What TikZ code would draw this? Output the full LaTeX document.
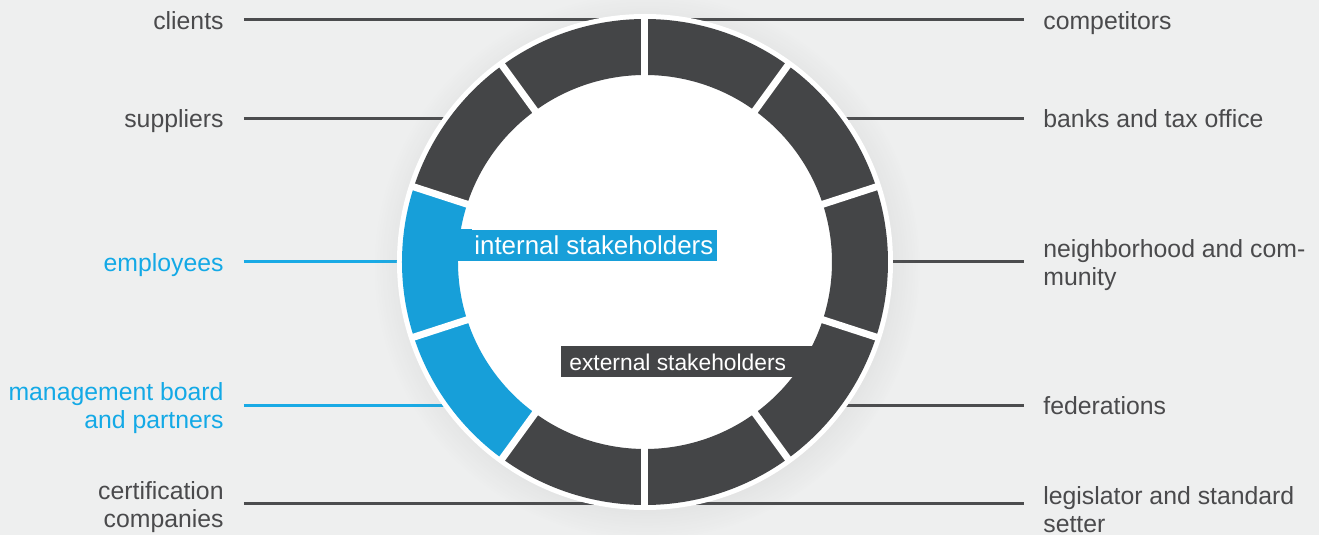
\documentclass[tikz,border=0pt]{standalone}
\usepackage{tikz}
\usetikzlibrary{positioning}
\usetikzlibrary{shadows}
\usepackage{xcolor}
\usepackage{fontspec}
\setmainfont{Liberation Sans}

\definecolor{bgcol}{HTML}{EEEFEF}
\definecolor{ringdark}{HTML}{444547}
\definecolor{ringblue}{HTML}{179FD9}
\definecolor{linedark}{HTML}{4B4C4E}
\definecolor{lineblue}{HTML}{19AAE5}
\definecolor{txtgray}{HTML}{4A4A4C}
\definecolor{txtblue}{HTML}{13A9E6}

\begin{document}
\begin{tikzpicture}[x=0.5pt, y=0.5pt]
        % ================= 样式定义 =================
        \tikzset{
            % 外侧标签:无框,字大
            lbl/.style={inner sep=0pt, text=txtgray, font=\fontsize{12.4pt}{14pt}\selectfont},
            % 单行标签:固定高度,保证对齐
            one/.style={text height=9.3pt, text depth=0pt},
            lblin/.style={lbl, text=txtblue},
            % 连线
            lnk/.style={draw=linedark, line width=1.5pt},
            lnkin/.style={draw=lineblue, line width=1.5pt},
            % 中间白色圆盘
            disk/.style={circle, fill=white, inner sep=0pt, minimum size=248pt},
            % 圆环中的白缝
            gap/.style={draw=white, line width=3.5pt},
            % 圆盘里的文字条
            tag/.style={inner xsep=2pt, inner ysep=0pt, minimum height=15.5pt, text=white,
                font=\fontsize{12.95pt}{14pt}\selectfont}
        }

        % ================= 背景 =================
        \fill[bgcol] (-645,-273) rectangle (674,262);
        \useasboundingbox (-645,-273) rectangle (674,262);

        \coordinate (o) at (0,0);

        % 连线端点
        \coordinate (l1) at (-401, 242);
        \coordinate (l2) at (-401, 143.5);
        \coordinate (l3) at (-401, 0);
        \coordinate (l4) at (-401, -143.5);
        \coordinate (l5) at (-401, -242);
        \coordinate (r1) at (379, 242);
        \coordinate (r2) at (379, 143.5);
        \coordinate (r3) at (379, 0);
        \coordinate (r4) at (379, -143.5);
        \coordinate (r5) at (379, -242);

        % ================= 左侧标签 =================
        \node[lbl, one, left=10pt of l1] (clients) {clients};
        \node[lbl, one, left=10pt of l2] (suppliers) {suppliers};
        \node[lblin, one, left=10pt of l3] (employees) {employees};
        \node[lblin, left=10pt of l4, yshift=-1.5pt, align=right] (board) {management board\\and partners};
        \node[lbl, left=10pt of l5, yshift=-1.5pt, align=right] (certif) {certification\\companies};

        % ================= 右侧标签 =================
        \node[lbl, one, right=9.5pt of r1] (compet) {competitors};
        \node[lbl, one, right=9.5pt of r2] (banks) {banks and tax office};
        \node[lbl, right=9.5pt of r3, yshift=-1.5pt, align=left] (neighb) {neighborhood and com-\\munity};
        \node[lbl, one, right=9.5pt of r4] (feder) {federations};
        \node[lbl, right=9.5pt of r5, yshift=-3pt, align=left] (legis) {legislator and standard\\setter};

        % ================= 连线 (画在圆盘下面) =================
        \draw[lnk] (l1) -- (l1 -| o);
        \draw[lnk] (l2) -- (l2 -| o);
        \draw[lnkin] (l3) -- (l3 -| o);
        \draw[lnkin] (l4) -- (l4 -| o);
        \draw[lnk] (l5) -- (l5 -| o);
        \draw[lnk] (r1) -- (r1 -| o);
        \draw[lnk] (r2) -- (r2 -| o);
        \draw[lnk] (r3) -- (r3 -| o);
        \draw[lnk] (r4) -- (r4 -| o);
        \draw[lnk] (r5) -- (r5 -| o);

        % ================= 圆盘与圆环 =================
        \node[disk, circular drop shadow={shadow xshift=1pt, shadow yshift=-2pt, opacity=.12}] (hub) at (o) {};

        % 10 段,每段 36 度,左边两段为蓝色
        \foreach \a/\c in {72/ringdark, 36/ringdark, 0/ringdark, -36/ringdark, -72/ringdark,
                           -108/ringdark, -144/ringblue, 180/ringblue, 144/ringdark, 108/ringdark}
            \fill[\c] (\a-18:243) arc[start angle=\a-18, end angle=\a+18, radius=243]
                -- (\a+18:187) arc[start angle=\a+18, end angle=\a-18, radius=187] -- cycle;

        % 白缝
        \foreach \g in {18,54,...,342}
            \draw[gap] (\g:183) -- (\g:246);

        % ================= 中间文字条 =================
        \node[tag, fill=ringblue, anchor=south west] (intl) at (-175,1) {internal stakeholders};
        \fill[ringblue] (-190,1) rectangle ([xshift=0.8pt]intl.north west);

        \node[tag, fill=ringdark, inner xsep=4pt, anchor=north west, font=\fontsize{11.4pt}{14pt}\selectfont]
            (extl) at (-84,-84) {external stakeholders};
        \fill[ringdark] ([xshift=-0.8pt]extl.south east) rectangle (170,-84);

    \end{tikzpicture}
\end{document}
